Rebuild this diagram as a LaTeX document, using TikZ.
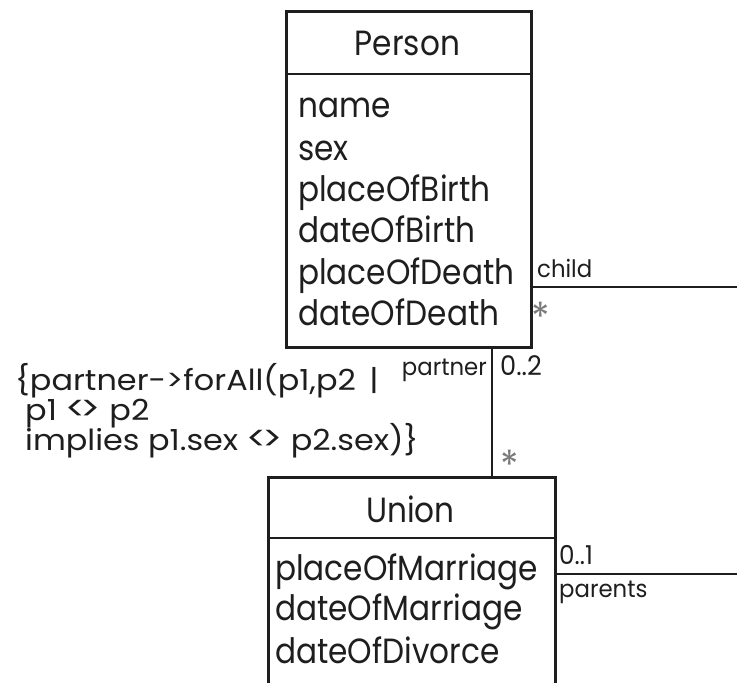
\documentclass[tikz,border=0pt]{standalone}
\usepackage{fontspec}
\setmainfont{Poppins}[FakeStretch=0.95]
\newfontfamily\attrfont{Poppins}[FakeStretch=0.89]
\newfontfamily\consfont{Poppins}[FakeStretch=1.1]
\definecolor{ink}{HTML}{1E1E1E}
\definecolor{star}{HTML}{7A7A7A}
\newcommand{\ltgt}{{\fontsize{34}{29}\selectfont<\kern-0.16em>}}
\begin{document}
\begin{tikzpicture}[x=1pt,y=-1pt,
  umlbox/.style={draw=ink, line width=2.8pt, inner sep=0pt},
  attr/.style={anchor=base west, inner sep=0pt, text=ink, font=\attrfont\fontsize{35}{40}\selectfont},
  ctitle/.style={anchor=base, inner sep=0pt, text=ink, font=\attrfont\fontsize{35}{40}\selectfont},
  role/.style={anchor=base west, inner sep=0pt, text=ink, font=\fontsize{24}{24}\selectfont},
  rolee/.style={anchor=base east, inner sep=0pt, text=ink, font=\fontsize{24}{24}\selectfont},
  mult/.style={anchor=north, inner sep=0pt, text=star, font=\fontsize{40}{40}\selectfont},
  link/.style={draw=ink, line width=2.5pt},
  cons/.style={anchor=base west, inner sep=0pt, text=ink, font=\consfont\fontsize{29}{29}\selectfont}]
\useasboundingbox (0,0) rectangle (737,683);
% Person class
\node[umlbox, anchor=north west, minimum width=245pt, minimum height=336pt] (person) at (285,10) {};
\coordinate (psep) at (0,74);
\draw[link] (person.west |- psep) -- (person.east |- psep);
\node[ctitle] (ptitle) at (407.5,55) {Person};
\node[attr] (a1) at (298,117) {name};
\node[attr] (a2) at (298,160) {sex};
\node[attr] (a3) at (298,201) {placeOfBirth};
\node[attr] (a4) at (298,242) {dateOfBirth};
\node[attr] (a5) at (298,284) {placeOfDeath};
\node[attr] (a6) at (298,325) {dateOfDeath};
% Union class
\node[umlbox, anchor=north west, minimum width=287pt, minimum height=240pt] (union) at (267,476) {};
\coordinate (usep) at (0,538);
\draw[link] (union.west |- usep) -- (union.east |- usep);
\node[ctitle] (utitle) at (410.5,522) {Union};
\node[attr] (u1) at (275,580) {placeOfMarriage};
\node[attr] (u2) at (275,620) {dateOfMarriage};
\node[attr] (u3) at (275,663) {dateOfDivorce};
% child association
\coordinate (childend) at (737,287);
\draw[link] (person.east |- childend) -- (childend);
\node[role] (lchild) at (537,277) {child};
\node[mult] (mchild) at (541,302) {*};
% partner association
\coordinate (px) at (492,400);
\draw[link] (person.south -| px) -- (union.north -| px);
\node[rolee] (lpartner) at (487,375) {partner};
\node[role, font=\fontsize{27}{27}\selectfont] (mpartner) at (500,375) {0..2};
\node[mult] (mpu) at (510,450) {*};
% parents association
\coordinate (parentend) at (737,574);
\draw[link] (union.east |- parentend) -- (parentend);
\node[role, font=\fontsize{26}{26}\selectfont] (mparents) at (559,564) {0..1};
\node[role] (lparents) at (559,597) {parents};
% constraint
\node[cons] (c1) at (15,390) {\{partner->forAll(p1,p2 \,|};
\node[cons] (c2) at (25,420) {p1 \ltgt{} p2};
\node[cons] (c3) at (25,450) {implies p1.sex \ltgt{} p2.sex)\}};
\end{tikzpicture}
\end{document}
